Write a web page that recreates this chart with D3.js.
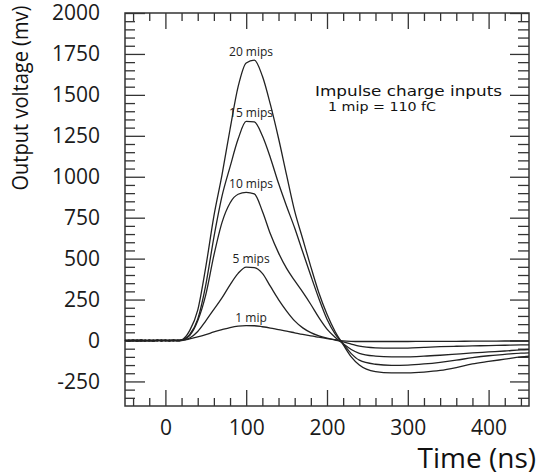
<!DOCTYPE html>
<meta charset="utf-8">
<script src="https://d3js.org/d3.v7.min.js"></script>
<style>
  body { margin: 0; background: #fff; }
  svg { display: block; }
</style>
<div id="my_dataviz"></div>
<script>

// time axis (ns), shared by every trace
var times = [-50,-45,-40,-35,-30,-25,-20,-15,-10,-5,0,5,10,15,
  20,30,40,50,60,70,80,90,100,110,120,130,140,150,160,170,180,190,200,210,220,230,240,
  260,280,300,320,340,360,380,400,420,440,450];

// output voltage (mV), one array per input charge
var mip20 = [2,-4,3,-3,4,-2,3,-4,2,-3,4,-2,3,-1,
  3,60,185,450,760,1010,1290,1550,1695,1712,1615,1440,1235,1010,790,620,450,290,160,55,-25,-100,-150,
  -190,-198,-198,-193,-183,-165,-143,-128,-114,-100,-95];
var mip15 = [-2,3,-3,4,-2,3,-4,2,-3,3,-2,4,-3,2,
  3,35,130,340,630,880,1060,1230,1338,1335,1250,1115,960,820,687,540,395,255,130,40,-20,-80,-120,
  -145,-152,-150,-143,-133,-120,-105,-93,-85,-77,-75];
var mip10 = [3,-2,2,-4,3,-3,2,-2,4,-3,2,-3,2,-2,
  3,30,120,280,520,720,840,893,905,895,790,650,535,440,365,295,220,140,70,20,-20,-55,-78,
  -95,-100,-100,-96,-90,-83,-76,-70,-64,-57,-55];
var mip5 = [-3,2,-2,3,-4,2,-3,4,-2,3,-3,2,-2,3,
  2,15,55,120,190,260,340,410,448,445,410,330,250,180,120,77,48,28,14,3,-8,-22,-35,
  -45,-47,-46,-42,-38,-35,-33,-31,-29,-27,-27];
var mip1 = [2,-3,4,-2,3,-3,2,-4,3,-2,2,-3,4,-2,
  0,10,22,36,52,66,79,88,91,90,84,76,66,57,47,37,28,20,12,5,-2,-5,-6,
  -6,-6,-6,-5,-5,-5,-4,-4,-3,-3,-3];

var traceNames = ["20 mips", "15 mips", "10 mips", "5 mips", "1 mip"];
var traceValues = [mip20, mip15, mip10, mip5, mip1];

// tick values
var xMajor = [0, 100, 200, 300, 400];
var yMajor = [-250, 0, 250, 500, 750, 1000, 1250, 1500, 1750, 2000];

// set the dimensions and margins of the graph
var margin = {top: 13, right: 10, bottom: 67, left: 125},
    width = 539 - margin.left - margin.right,
    height = 473 - margin.top - margin.bottom;

var svgRoot = d3.select("#my_dataviz")
  .append("svg")
    .attr("width", 539)
    .attr("height", 473);

var svg = svgRoot.append("g")
    .attr("transform", "translate(" + margin.left + "," + margin.top + ")");

var x = d3.scaleLinear().domain([-50, 450]).range([0, width]);
var y = d3.scaleLinear().domain([-400, 2000]).range([height, 0]);

var xMinor = d3.range(-40, 450, 20).filter(function(d) { return d % 100 != 0; });
var yMinor = d3.range(-350, 2000, 50).filter(function(d) { return d % 250 != 0; });

// plain numbers, hyphen minus like the original
var plain = function(d) { return String(d); };

function styleAxis(g) {
  g.select(".domain").remove();
  g.selectAll("line").attr("stroke", "#333").attr("stroke-width", 1.3);
}

// bottom axis with labels
svg.append("g")
  .attr("transform", "translate(0," + height + ")")
  .call(d3.axisBottom(x).tickValues(xMajor).tickSize(-16).tickSizeOuter(0).tickPadding(14).tickFormat(plain))
  .call(styleAxis)
  .selectAll("text")
    .style("font-family", "'Open Sans', sans-serif")
    .style("font-size", "21px")
    .attr("fill", "#1a1a1a");
svg.append("g")
  .attr("transform", "translate(0," + height + ")")
  .call(d3.axisBottom(x).tickValues(xMinor).tickSize(-8).tickSizeOuter(0).tickFormat(""))
  .call(styleAxis);

// top axis, ticks only
svg.append("g")
  .call(d3.axisTop(x).tickValues(xMajor).tickSize(-16).tickSizeOuter(0).tickFormat(""))
  .call(styleAxis);
svg.append("g")
  .call(d3.axisTop(x).tickValues(xMinor).tickSize(-8).tickSizeOuter(0).tickFormat(""))
  .call(styleAxis);

// left axis with labels
svg.append("g")
  .call(d3.axisLeft(y).tickValues(yMajor).tickSize(-20).tickSizeOuter(0).tickPadding(25).tickFormat(plain))
  .call(styleAxis)
  .selectAll("text")
    .style("font-family", "'Open Sans', sans-serif")
    .style("font-size", "21px")
    .attr("fill", "#1a1a1a");
svg.append("g")
  .call(d3.axisLeft(y).tickValues(yMinor).tickSize(-10).tickSizeOuter(0).tickFormat(""))
  .call(styleAxis);

// right axis, ticks only
svg.append("g")
  .attr("transform", "translate(" + width + ",0)")
  .call(d3.axisRight(y).tickValues(yMajor).tickSize(-19).tickSizeOuter(0).tickFormat(""))
  .call(styleAxis);
svg.append("g")
  .attr("transform", "translate(" + width + ",0)")
  .call(d3.axisRight(y).tickValues(yMinor).tickSize(-11).tickSizeOuter(0).tickFormat(""))
  .call(styleAxis);

// frame
svg.append("rect")
  .attr("x", 0).attr("y", 0)
  .attr("width", width).attr("height", height)
  .attr("fill", "none")
  .attr("stroke", "#333")
  .attr("stroke-width", 1.5);

// the traces
var line = d3.line()
  .x(function(d) { return x(d[0]); })
  .y(function(d) { return y(d[1]); })
  .curve(d3.curveMonotoneX);

traceValues.forEach(function(vals, i) {
  var pts = times.map(function(t, j) { return [t, vals[j]]; });
  svg.append("path")
    .datum(pts)
    .attr("fill", "none")
    .attr("stroke", "#222")
    .attr("stroke-width", 1.3)
    .attr("d", line);

  // label just above the peak
  var peak = d3.max(vals);
  svg.append("text")
    .attr("x", x(106))
    .attr("y", y(peak) - 4)
    .attr("text-anchor", "middle")
    .style("font-family", "'Open Sans', sans-serif")
    .style("font-size", "12px")
    .attr("fill", "#222")
    .text(traceNames[i]);
});

// annotation
svg.append("text")
  .attr("x", 315 - margin.left)
  .attr("y", 96 - margin.top)
  .style("font-family", "'DejaVu Sans', sans-serif")
  .style("font-size", "14px")
  .attr("textLength", 187)
  .attr("lengthAdjust", "spacingAndGlyphs")
  .attr("fill", "#111")
  .text("Impulse charge inputs");
svg.append("text")
  .attr("x", 328 - margin.left)
  .attr("y", 111 - margin.top)
  .style("font-family", "'DejaVu Sans', sans-serif")
  .style("font-size", "13px")
  .attr("textLength", 108)
  .attr("lengthAdjust", "spacingAndGlyphs")
  .attr("fill", "#111")
  .text("1 mip = 110 fC");

// axis titles
svgRoot.append("text")
  .attr("transform", "translate(28,98) rotate(-90)")
  .attr("text-anchor", "middle")
  .style("font-family", "'Open Sans', sans-serif")
  .style("font-size", "22px")
  .attr("textLength", 185)
  .attr("lengthAdjust", "spacingAndGlyphs")
  .attr("fill", "#111")
  .text("Output voltage (mv)");

svgRoot.append("text")
  .attr("x", 536)
  .attr("y", 468)
  .attr("text-anchor", "end")
  .style("font-family", "'Open Sans', sans-serif")
  .style("font-size", "28px")
  .attr("fill", "#111")
  .text("Time (ns)");

</script>
